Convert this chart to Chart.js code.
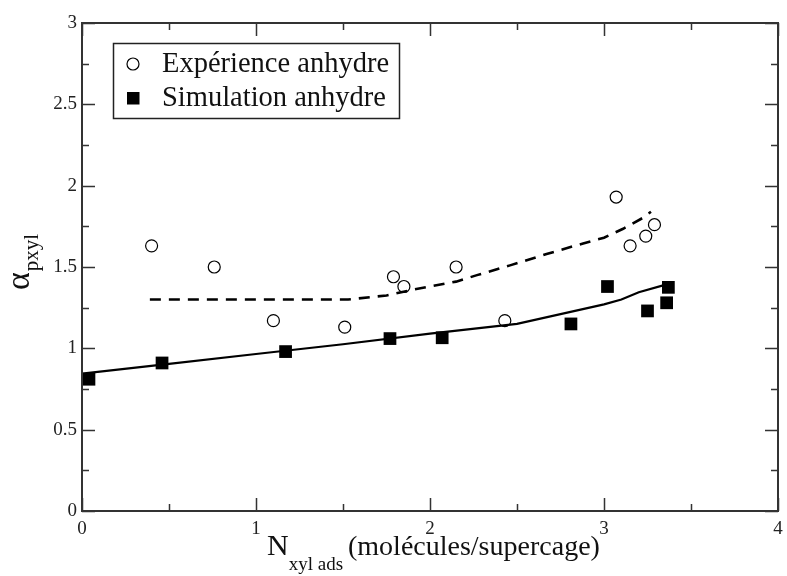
<!DOCTYPE html>
<html>
<head>
<meta charset="utf-8">
<script src="https://cdn.jsdelivr.net/npm/chart.js@4.4.1/dist/chart.umd.min.js"></script>
<style>
    html, body { margin: 0; padding: 0; background: #ffffff; overflow: hidden; }
    canvas { display: block; }
</style>
</head>
<body>
<canvas id="chartCanvas" width="787" height="576"></canvas>
<script>
// experience (open circles)
let expX = [0.40, 0.76, 1.10, 1.51, 1.79, 1.85, 2.15, 2.43, 3.07, 3.15, 3.24, 3.29];
let expY = [1.63, 1.50, 1.17, 1.13, 1.44, 1.38, 1.50, 1.17, 1.93, 1.63, 1.69, 1.76];

// simulation (filled squares)
let simX = [0.04, 0.46, 1.17, 1.77, 2.07, 2.81, 3.02, 3.25, 3.36, 3.37];
let simY = [0.81, 0.91, 0.98, 1.06, 1.065, 1.15, 1.38, 1.23, 1.28, 1.375];

// dashed curve through the experience
let expCurveX = [0.39, 1.53, 1.75, 1.90, 2.15, 2.27, 2.46, 2.67, 2.88, 3.00, 3.11, 3.22, 3.27];
let expCurveY = [1.30, 1.30, 1.325, 1.36, 1.41, 1.45, 1.51, 1.58, 1.645, 1.68, 1.735, 1.80, 1.84];

// solid curve through the simulation
let simCurveX = [0.00, 0.50, 1.00, 1.50, 2.00, 2.50, 2.75, 3.00, 3.10, 3.20, 3.35];
let simCurveY = [0.845, 0.905, 0.965, 1.025, 1.09, 1.15, 1.21, 1.27, 1.30, 1.345, 1.39];

let legendLabels = ["Expérience anhydre", "Simulation anhydre"];
let xTickLabels = ["0", "1", "2", "3", "4"];
let yTickLabels = ["0", "0.5", "1", "1.5", "2", "2.5", "3"];

let serif = '"Liberation Serif", "DejaVu Serif", serif';

function toPoints(xs, ys) {
    let points = [];
    for (let i = 0; i < xs.length; i++) {
        points.push({ x: xs[i], y: ys[i] });
    }
    return points;
}

// frame, inward ticks on all four sides
let framePlugin = {
    id: "frame",
    afterDraw(chart) {
        let ctx = chart.ctx;
        let area = chart.chartArea;
        let xScale = chart.scales.x;
        let yScale = chart.scales.y;

        ctx.save();
        ctx.strokeStyle = "#333";
        ctx.lineWidth = 1.5;

        for (let v = 0; v <= 4.001; v += 0.5) {
            let px = Math.round(xScale.getPixelForValue(v)) + 0.5;
            let len = (Math.abs(v - Math.round(v)) < 0.01) ? 13 : 7;
            ctx.beginPath();
            ctx.moveTo(px, area.bottom);
            ctx.lineTo(px, area.bottom - len);
            ctx.moveTo(px, area.top);
            ctx.lineTo(px, area.top + len);
            ctx.stroke();
        }

        for (let v = 0; v <= 3.001; v += 0.25) {
            let py = Math.round(yScale.getPixelForValue(v)) + 0.5;
            let len = (Math.abs(v * 2 - Math.round(v * 2)) < 0.01) ? 13 : 7;
            ctx.beginPath();
            ctx.moveTo(area.left, py);
            ctx.lineTo(area.left + len, py);
            ctx.moveTo(area.right, py);
            ctx.lineTo(area.right - len, py);
            ctx.stroke();
        }

        ctx.lineWidth = 2;
        ctx.strokeRect(area.left, area.top, area.right - area.left, area.bottom - area.top);
        ctx.restore();
    }
};

// axis titles with subscripts
let titlePlugin = {
    id: "titles",
    afterDraw(chart) {
        let ctx = chart.ctx;
        ctx.save();
        ctx.fillStyle = "#111";
        ctx.textBaseline = "alphabetic";
        ctx.textAlign = "left";

        let x = 267;
        ctx.font = "30px " + serif;
        ctx.fillText("N", x, 555);
        x += ctx.measureText("N").width;
        ctx.font = "19px " + serif;
        ctx.fillText("xyl ads", x, 570);
        ctx.font = "28px " + serif;
        ctx.fillText("(molécules/supercage)", 348, 555);

        ctx.translate(29, 290);
        ctx.rotate(-Math.PI / 2);
        ctx.font = "34px " + serif;
        ctx.fillText("α", 0, 0);
        let w = ctx.measureText("α").width;
        ctx.font = "21px " + serif;
        ctx.fillText("pxyl", w + 1, 9);
        ctx.restore();
    }
};

// boxed legend in the upper left
let legendPlugin = {
    id: "boxLegend",
    afterDraw(chart) {
        let ctx = chart.ctx;
        ctx.save();
        ctx.fillStyle = "#fff";
        ctx.fillRect(113.5, 43.5, 286, 75);
        ctx.strokeStyle = "#222";
        ctx.lineWidth = 1.5;
        ctx.strokeRect(113.5, 43.5, 286, 75);

        ctx.beginPath();
        ctx.arc(133, 64, 6, 0, Math.PI * 2);
        ctx.lineWidth = 1.2;
        ctx.strokeStyle = "#000";
        ctx.stroke();

        ctx.fillStyle = "#000";
        ctx.fillRect(127, 92, 12.5, 12.5);

        ctx.fillStyle = "#111";
        ctx.font = "28.5px " + serif;
        ctx.textBaseline = "alphabetic";
        ctx.fillText(legendLabels[0], 162, 72);
        ctx.fillText(legendLabels[1], 162, 106);
        ctx.restore();
    }
};

function drawChart(parentElement) {

    let ctx = document.getElementById(parentElement).getContext("2d");

    let chart = new Chart(ctx, {
        type: "scatter",
        data: {
            datasets: [
                {
                    label: legendLabels[0],
                    data: toPoints(expX, expY),
                    pointStyle: "circle",
                    pointRadius: 6,
                    pointHoverRadius: 6,
                    pointBorderWidth: 1.2,
                    borderColor: "#000",
                    backgroundColor: "rgba(0,0,0,0)"
                },
                {
                    label: legendLabels[1],
                    data: toPoints(simX, simY),
                    pointStyle: "rect",
                    pointRadius: 9,
                    pointHoverRadius: 9,
                    pointBorderWidth: 0,
                    borderColor: "#000",
                    backgroundColor: "#000"
                },
                {
                    label: "exp curve",
                    data: toPoints(expCurveX, expCurveY),
                    showLine: true,
                    pointRadius: 0,
                    borderColor: "#000",
                    borderWidth: 2.6,
                    borderDash: [11, 8],
                    tension: 0
                },
                {
                    label: "sim curve",
                    data: toPoints(simCurveX, simCurveY),
                    showLine: true,
                    pointRadius: 0,
                    borderColor: "#000",
                    borderWidth: 2.2,
                    tension: 0
                }
            ]
        },
        options: {
            responsive: false,
            animation: false,
            events: [],
            layout: {
                padding: { top: 23, right: 5, left: 0, bottom: 0 }
            },
            plugins: {
                legend: { display: false },
                tooltip: { enabled: false }
            },
            scales: {
                x: {
                    type: "linear",
                    min: 0,
                    max: 4,
                    grid: { display: false, drawTicks: false },
                    border: { display: false },
                    afterFit: function (scale) {
                        scale.height = 65;
                        scale.paddingLeft = 0;
                        scale.paddingRight = 0;
                    },
                    ticks: {
                        stepSize: 1,
                        padding: 7,
                        color: "#222",
                        font: { family: serif, size: 19 },
                        callback: function (value) {
                            return xTickLabels[Math.round(value)];
                        }
                    }
                },
                y: {
                    type: "linear",
                    min: 0,
                    max: 3,
                    grid: { display: false, drawTicks: false },
                    border: { display: false },
                    afterFit: function (scale) {
                        scale.width = 82;
                        scale.paddingTop = 0;
                        scale.paddingBottom = 0;
                    },
                    ticks: {
                        stepSize: 0.5,
                        padding: 5,
                        color: "#222",
                        font: { family: serif, size: 19 },
                        callback: function (value) {
                            return yTickLabels[Math.round(value * 2)];
                        }
                    }
                }
            }
        },
        plugins: [framePlugin, titlePlugin, legendPlugin]
    });
}

drawChart("chartCanvas");
</script>
</body>
</html>
